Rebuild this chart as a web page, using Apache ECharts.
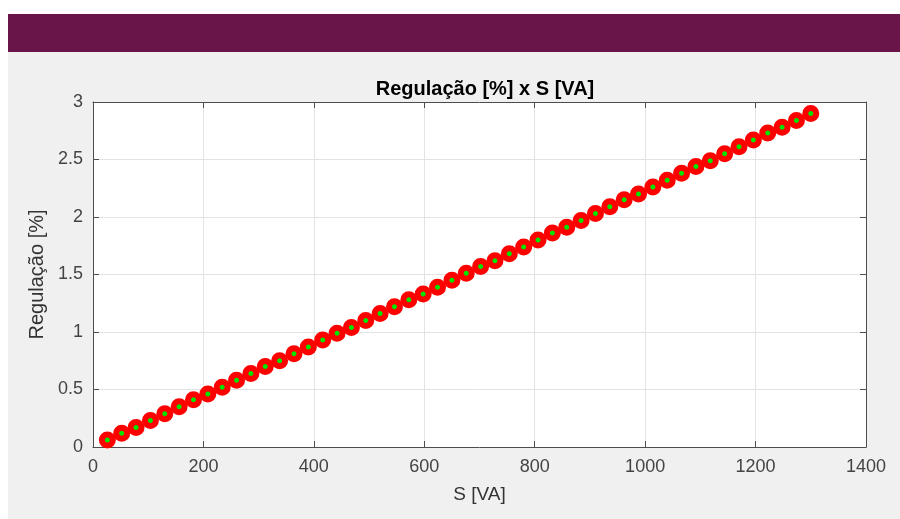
<!DOCTYPE html>
<html>
<head>
<meta charset="utf-8">
<script src="https://cdn.jsdelivr.net/npm/echarts@6/dist/echarts.min.js"></script>
<style>
  html, body { margin: 0; padding: 0; background: #fff; }
  #chart { width: 900px; height: 519px; }
</style>
</head>
<body>
<div id="chart"></div>
<script>
// potência aparente S [VA]
var sValues = [26, 52, 78, 104, 130, 156, 182, 208, 234, 260,
  286, 312, 338, 364, 390, 416, 442, 468, 494, 520,
  546, 572, 598, 624, 650, 676, 702, 728, 754, 780,
  806, 832, 858, 884, 910, 936, 962, 988, 1014, 1040,
  1066, 1092, 1118, 1144, 1170, 1196, 1222, 1248, 1274, 1300];
// regulação [%]
var regValues = [0.06, 0.12, 0.17, 0.23, 0.29, 0.35, 0.41, 0.46, 0.52, 0.58,
  0.64, 0.70, 0.75, 0.81, 0.87, 0.93, 0.99, 1.04, 1.10, 1.16,
  1.22, 1.28, 1.33, 1.39, 1.45, 1.51, 1.57, 1.62, 1.68, 1.74,
  1.80, 1.86, 1.91, 1.97, 2.03, 2.09, 2.15, 2.20, 2.26, 2.32,
  2.38, 2.44, 2.49, 2.55, 2.61, 2.67, 2.73, 2.78, 2.84, 2.90];

var points = sValues.map(function (s, i) { return [s, regValues[i]]; });

var font = '"Liberation Sans", Arial, Helvetica, sans-serif';
var axisColor = '#4d4d4d';

function boxAxis(extra) {
  return Object.assign({
    axisLine: { show: true, onZero: false, lineStyle: { color: axisColor, width: 1 } },
    axisTick: { show: true, inside: true, length: 6, lineStyle: { color: axisColor } },
    axisLabel: { show: false },
    splitLine: { show: false }
  }, extra);
}

var chart = echarts.init(document.getElementById('chart'));
chart.setOption({
  backgroundColor: '#f0f0f0',
  animation: false,
  graphic: [
    { type: 'rect', shape: { x: 0, y: 0, width: 900, height: 14 }, style: { fill: '#ffffff' }, z: -1 },
    { type: 'rect', shape: { x: 0, y: 0, width: 8, height: 519 }, style: { fill: '#ffffff' }, z: -1 },
    { type: 'rect', shape: { x: 8, y: 14, width: 892, height: 38 }, style: { fill: '#69154a' }, z: -1 }
  ],
  title: {
    text: 'Regulação [%] x S [VA]',
    left: 480, top: 74, textAlign: 'center',
    textStyle: { fontFamily: font, fontSize: 20, fontWeight: 'bold', color: '#000' }
  },
  grid: { left: 93, right: 34, top: 102, bottom: 72, show: true, backgroundColor: '#fff', borderWidth: 0 },
  xAxis: [{
    type: 'value', min: 0, max: 1400, interval: 200,
    name: 'S [VA]', nameLocation: 'middle', nameGap: 38,
    nameTextStyle: { fontFamily: font, fontSize: 19, color: '#333' },
    axisLine: { show: true, onZero: false, lineStyle: { color: axisColor, width: 1 } },
    axisTick: { show: true, inside: true, length: 6, lineStyle: { color: axisColor } },
    axisLabel: { fontFamily: font, fontSize: 18, color: '#444', margin: 11,
      formatter: function (v) { return String(v); } },
    splitLine: { show: true, lineStyle: { color: '#e3e3e3', width: 1 } }
  }, boxAxis({ type: 'value', min: 0, max: 1400, interval: 200, position: 'top' })],
  yAxis: [{
    type: 'value', min: 0, max: 3, interval: 0.5,
    name: 'Regulação [%]', nameLocation: 'middle', nameGap: 46, nameRotate: 90,
    nameTextStyle: { fontFamily: font, fontSize: 20, color: '#333' },
    axisLine: { show: true, onZero: false, lineStyle: { color: axisColor, width: 1 } },
    axisTick: { show: true, inside: true, length: 6, lineStyle: { color: axisColor } },
    axisLabel: { fontFamily: font, fontSize: 18, color: '#444', margin: 10 },
    splitLine: { show: true, lineStyle: { color: '#e3e3e3', width: 1 } }
  }, boxAxis({ type: 'value', min: 0, max: 3, interval: 0.5, position: 'right' })],
  series: [{
    type: 'line',
    data: points,
    symbol: 'circle',
    symbolSize: 11,
    showAllSymbol: true,
    lineStyle: { color: '#222', width: 1 },
    itemStyle: { color: '#00e600', borderColor: '#ff0000', borderWidth: 6 }
  }]
});
</script>
</body>
</html>
